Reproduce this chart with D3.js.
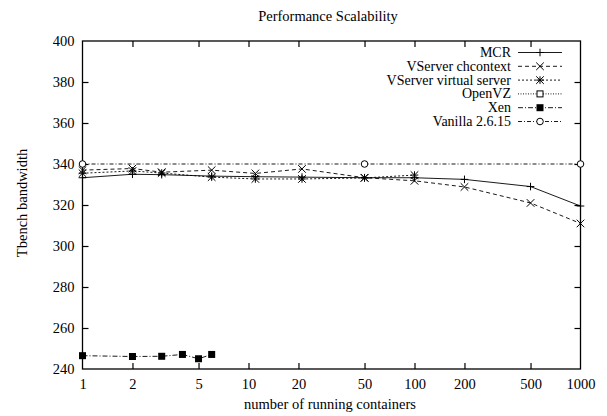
<!DOCTYPE html>
<html><head><meta charset="utf-8">
<script src="https://cdn.jsdelivr.net/npm/d3@7"></script>
<style>body{margin:0;background:#fff}svg{display:block}text{font-family:"Liberation Serif","Times New Roman",serif;font-size:14.5px;fill:#000}</style>
</head><body><svg id="c" width="607" height="416"></svg>
<script>
const xTicks = [1, 2, 5, 10, 20, 50, 100, 200, 500, 1000];
const yTicks = [240, 260, 280, 300, 320, 340, 360, 380, 400];
const seriesNames = ["MCR", "VServer chcontext", "VServer virtual server", "OpenVZ", "Xen", "Vanilla 2.6.15"];
const mcrX = [1, 2, 3, 6, 11, 21, 50, 100, 200, 500, 1000];
const mcrY = [333.3, 335, 334.8, 334.1, 333.8, 333.6, 333.3, 333.3, 332.5, 329, 319.5];
const chcontextX = [1, 2, 3, 6, 11, 21, 50, 100, 200, 500, 1000];
const chcontextY = [337, 337.8, 336, 337, 335.4, 337.6, 333.3, 331.8, 328.8, 321, 311];
const virtualX = [1, 2, 3, 6, 11, 21, 50, 100];
const virtualY = [335.5, 336.6, 335.6, 333.6, 332.7, 332.7, 333.2, 334.6];
const openvzX = [];
const openvzY = [];
const xenX = [1, 2, 3, 4, 5, 6];
const xenY = [246.5, 246.1, 246.2, 247.1, 245, 247.1];
const vanillaX = [1, 50, 1000];
const vanillaY = [340, 340, 340];

const svg = d3.select("#c");
const L = 82.5, R = 580.5, T = 41, B = 369;
const x = d3.scaleLog().domain([1, 1000]).range([L, R]);
const y = d3.scaleLinear().domain([240, 400]).range([B, T]);

// frame
svg.append("rect").attr("x", L).attr("y", T).attr("width", R - L).attr("height", B - T)
  .attr("fill", "none").attr("stroke", "#000").attr("stroke-width", 1.3);

// axes (inward ticks, mirrored)
const tl = 6;
const gB = svg.append("g").attr("transform", `translate(0,${B})`)
  .call(d3.axisBottom(x).tickValues(xTicks).tickFormat(d3.format("d")).tickSize(-tl).tickPadding(10));
const gT = svg.append("g").attr("transform", `translate(0,${T})`)
  .call(d3.axisTop(x).tickValues(xTicks).tickFormat("").tickSize(-tl));
const gL = svg.append("g").attr("transform", `translate(${L},0)`)
  .call(d3.axisLeft(y).tickValues(yTicks).tickSize(-tl).tickPadding(8));
const gR = svg.append("g").attr("transform", `translate(${R},0)`)
  .call(d3.axisRight(y).tickValues(yTicks).tickFormat("").tickSize(-tl));
[gB, gT, gL, gR].forEach(g => {
  g.select(".domain").remove();
  g.selectAll(".tick line").attr("stroke", "#000").attr("stroke-width", 1.2);
  g.selectAll("text").attr("fill", "#000");
});
gB.selectAll(".tick").filter(d => d === 1 || d === 1000).select("line").remove();
gT.selectAll(".tick").filter(d => d === 1 || d === 1000).select("line").remove();
gL.selectAll(".tick").filter(d => d === 240 || d === 400).select("line").remove();
gR.selectAll(".tick").filter(d => d === 240 || d === 400).select("line").remove();

// titles
svg.append("text").attr("x", 328).attr("y", 21).attr("text-anchor", "middle").text("Performance Scalability");
svg.append("text").attr("x", 330).attr("y", 409).attr("text-anchor", "middle").text("number of running containers");
svg.append("text").attr("transform", "translate(27,203) rotate(-90)").attr("text-anchor", "middle").text("Tbench bandwidth");

// markers
function marker(g, type, cx, cy) {
  const s = 3.8;
  if (type === "plus") {
    g.append("path").attr("d", `M${cx - s},${cy}H${cx + s}M${cx},${cy - s}V${cy + s}`).attr("stroke", "#000").attr("fill", "none");
  } else if (type === "cross") {
    g.append("path").attr("d", `M${cx - s},${cy - s}L${cx + s},${cy + s}M${cx - s},${cy + s}L${cx + s},${cy - s}`).attr("stroke", "#000").attr("fill", "none");
  } else if (type === "star") {
    g.append("path").attr("d", `M${cx - s},${cy}H${cx + s}M${cx},${cy - s}V${cy + s}M${cx - s},${cy - s}L${cx + s},${cy + s}M${cx - s},${cy + s}L${cx + s},${cy - s}`).attr("stroke", "#000").attr("fill", "none");
  } else if (type === "osquare") {
    g.append("rect").attr("x", cx - 3).attr("y", cy - 3).attr("width", 6).attr("height", 6).attr("fill", "#fff").attr("stroke", "#000");
  } else if (type === "fsquare") {
    g.append("rect").attr("x", cx - 3.5).attr("y", cy - 3.5).attr("width", 7).attr("height", 7).attr("fill", "#000");
  } else if (type === "circle") {
    g.append("circle").attr("cx", cx).attr("cy", cy).attr("r", 3.3).attr("fill", "#fff").attr("stroke", "#000");
  }
}

const series = [
  {name: seriesNames[0], xs: mcrX, ys: mcrY, dash: null, m: "plus"},
  {name: seriesNames[1], xs: chcontextX, ys: chcontextY, dash: "4,3", m: "cross"},
  {name: seriesNames[2], xs: virtualX, ys: virtualY, dash: "2,2", m: "star"},
  {name: seriesNames[3], xs: openvzX, ys: openvzY, dash: "1,1.5", m: "osquare"},
  {name: seriesNames[4], xs: xenX, ys: xenY, dash: "5,2,1,2", m: "fsquare"},
  {name: seriesNames[5], xs: vanillaX, ys: vanillaY, dash: "4,2,1,2", m: "circle"}
];

const line = d3.line().x(d => x(d[0])).y(d => y(d[1]));
const plot = svg.append("g");
series.forEach(s => {
  const pts = s.xs.map((v, i) => [v, s.ys[i]]);
  if (pts.length) {
    plot.append("path").attr("d", line(pts)).attr("fill", "none").attr("stroke", "#000")
      .attr("stroke-width", 0.9).attr("stroke-dasharray", s.dash);
    pts.forEach(p => marker(plot, s.m, x(p[0]), y(p[1])));
  }
});

// legend
const lg = svg.append("g");
series.forEach((s, i) => {
  const ly = 52.5 + i * 13.8;
  lg.append("text").attr("x", 511).attr("y", ly + 4.5).attr("text-anchor", "end").style("font-size", "14px").text(s.name);
  lg.append("line").attr("x1", 518).attr("x2", 562).attr("y1", ly).attr("y2", ly)
    .attr("stroke", "#000").attr("stroke-width", 0.9).attr("stroke-dasharray", s.dash);
  marker(lg, s.m, 540, ly);
});
</script></body></html>
